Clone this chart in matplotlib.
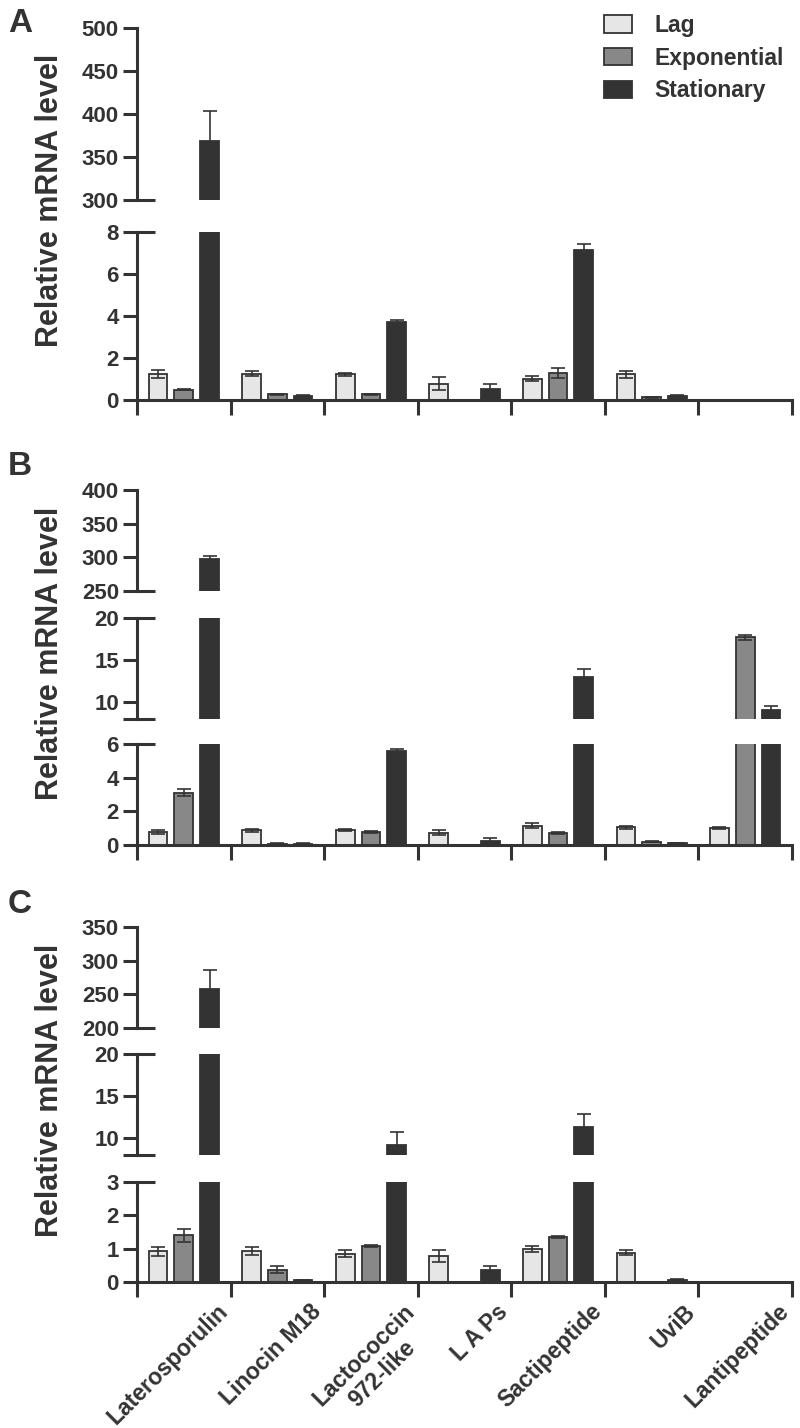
import numpy as np
import matplotlib
matplotlib.use("Agg")
import matplotlib.pyplot as plt
from matplotlib.patches import Patch
from matplotlib.transforms import blended_transform_factory

plt.rcParams['font.family'] = ['Liberation Sans', 'DejaVu Sans']
plt.rcParams['font.weight'] = 'bold'

categories = ['Laterosporulin', 'Linocin M18', 'Lactococcin\n972-like', 'L A Ps',
              'Sactipeptide', 'UviB', 'Lantipeptide']
phases = ['Lag', 'Exponential', 'Stationary']

# panel A
lag_a = [1.25, 1.25, 1.22, 0.78, 1.02, 1.22, 0]
lag_a_err = [0.18, 0.13, 0.06, 0.3, 0.12, 0.15, 0]
exp_a = [0.5, 0.28, 0.28, 0, 1.28, 0.13, 0]
exp_a_err = [0.04, 0.02, 0.02, 0, 0.25, 0.02, 0]
stat_a = [369, 0.2, 3.72, 0.52, 7.15, 0.2, 0]
stat_a_err = [35, 0.02, 0.1, 0.24, 0.3, 0.03, 0]

# panel B
lag_b = [0.77, 0.88, 0.9, 0.73, 1.15, 1.05, 0.99]
lag_b_err = [0.1, 0.08, 0.08, 0.15, 0.15, 0.08, 0.06]
exp_b = [3.1, 0.08, 0.77, 0, 0.7, 0.2, 17.7]
exp_b_err = [0.2, 0.01, 0.06, 0, 0.06, 0.03, 0.3]
stat_b = [298, 0.08, 5.6, 0.24, 13.0, 0.12, 9.1]
stat_b_err = [4, 0.01, 0.08, 0.17, 1.0, 0.02, 0.4]

# panel C
lag_c = [0.92, 0.94, 0.85, 0.79, 0.99, 0.88, 0]
lag_c_err = [0.14, 0.12, 0.1, 0.18, 0.1, 0.08, 0]
exp_c = [1.4, 0.37, 1.07, 0, 1.34, 0, 0]
exp_c_err = [0.2, 0.1, 0.03, 0, 0.03, 0, 0]
stat_c = [258, 0.05, 9.2, 0.35, 11.3, 0.07, 0]
stat_c_err = [28, 0.01, 1.5, 0.14, 1.6, 0.01, 0]

fills = ['#e6e6e6', '#888888', '#333333']
dark = '#333333'

W, H = 800, 1428
fig = plt.figure(figsize=(W / 100, H / 100), dpi=100)
AX_L, AX_R = 137, 792

# (label, values, errors, segments bottom->top: (ymin, ymax, top_px, bottom_px, ticks, ticklabels))
panels = [
    ('A', [lag_a, exp_a, stat_a], [lag_a_err, exp_a_err, stat_a_err],
     [(0, 8, 232, 400, [0, 2, 4, 6, 8], None),
      (300, 500, 28, 200, [300, 350, 400, 450, 500], None)]),
    ('B', [lag_b, exp_b, stat_b], [lag_b_err, exp_b_err, stat_b_err],
     [(0, 6, 744, 845, [0, 2, 4, 6], None),
      (8, 20, 618, 719, [8, 10, 15, 20], ['', '10', '15', '20']),
      (250, 400, 490, 591, [250, 300, 350, 400], None)]),
    ('C', [lag_c, exp_c, stat_c], [lag_c_err, exp_c_err, stat_c_err],
     [(0, 3, 1182, 1282, [0, 1, 2, 3], None),
      (8, 20, 1054, 1155, [8, 10, 15, 20], ['', '10', '15', '20']),
      (200, 350, 927, 1028, [200, 250, 300, 350], None)]),
]

x = np.arange(len(categories)) + 0.5
offsets = [-0.275, 0, 0.275]
bw = 0.2

for pi, (letter, vals, errs, segs) in enumerate(panels):
    nseg = len(segs)
    for si, (y0, y1, top, bot, ticks, tlabels) in enumerate(segs):
        ax = fig.add_axes([AX_L / W, 1 - bot / H, (AX_R - AX_L) / W, (bot - top) / H])
        for k in range(3):
            v = np.array(vals[k], dtype=float)
            e = np.array(errs[k], dtype=float)
            ax.bar(x + offsets[k], v, bw, color=fills[k], edgecolor=dark,
                   linewidth=1.3, zorder=2)
            m = e > 0
            ax.errorbar((x + offsets[k])[m], v[m], yerr=e[m], fmt='none',
                        ecolor=dark, elinewidth=1.2, capsize=5, capthick=1.2, zorder=3)
        ax.set_xlim(0, len(categories))
        ax.set_ylim(y0, y1)
        ax.set_yticks(ticks)
        if tlabels is not None:
            ax.set_yticklabels(tlabels)
        ax.tick_params(axis='y', length=10, width=2.2, color=dark, labelsize=16,
                       labelcolor=dark, pad=3)
        for s in ['top', 'right']:
            ax.spines[s].set_visible(False)
        ax.spines['left'].set_linewidth(2.2)
        ax.spines['left'].set_color(dark)
        ax.patch.set_alpha(0)
        if si == 0:
            ax.spines['bottom'].set_linewidth(2.2)
            ax.spines['bottom'].set_color(dark)
            ax.set_xticks(np.arange(len(categories) + 1))
            ax.set_xticklabels([])
            ax.tick_params(axis='x', length=11, width=2.2, color=dark)
        else:
            ax.spines['bottom'].set_visible(False)
            ax.set_xticks([])
        # inward break marks
        tr = blended_transform_factory(ax.transAxes, ax.transData)
        inner = 18 / (AX_R - AX_L)
        if si > 0:
            ax.plot([0, inner], [y0, y0], transform=tr, color=dark, lw=2.2,
                    clip_on=False, solid_capstyle='butt')
        if si < nseg - 1:
            ax.plot([0, inner], [y1, y1], transform=tr, color=dark, lw=2.2,
                    clip_on=False, solid_capstyle='butt')
        if si == 0 and pi == 2:
            for i, name in enumerate(categories):
                ax.annotate(name, xy=(x[i], 0), xycoords=('data', 'axes fraction'),
                            xytext=(32 * 0.72, -18 * 0.72), textcoords='offset points',
                            rotation=45, ha='right', va='top', rotation_mode='anchor',
                            multialignment='center', fontsize=16.5, color=dark,
                            fontweight='bold')
    ptop = segs[-1][2]
    pbot = segs[0][3]
    yc = (ptop + pbot) / 2 - 14
    fig.text(50 / W, 1 - yc / H, 'Relative mRNA level', rotation=90, ha='center',
             va='center', fontsize=22, color=dark, fontweight='bold')

fig.text(8 / W, 1 - 32 / H, 'A', fontsize=24, fontweight='bold', color=dark, va='baseline')
fig.text(8 / W, 1 - 475 / H, 'B', fontsize=24, fontweight='bold', color=dark, va='baseline')
fig.text(8 / W, 1 - 913 / H, 'C', fontsize=24, fontweight='bold', color=dark, va='baseline')

handles = [Patch(facecolor=fills[k], edgecolor=dark, linewidth=1.3) for k in range(3)]
fig.legend(handles, phases, loc='upper left', bbox_to_anchor=(604 / W, 1 - 14 / H),
           frameon=False, handlelength=1.2, handleheight=0.8,
           labelspacing=0.42, handletextpad=1.0, borderpad=0, borderaxespad=0,
           prop={'weight': 'bold', 'size': 16.5}, labelcolor=dark)

fig.savefig('out.png', dpi=100)
